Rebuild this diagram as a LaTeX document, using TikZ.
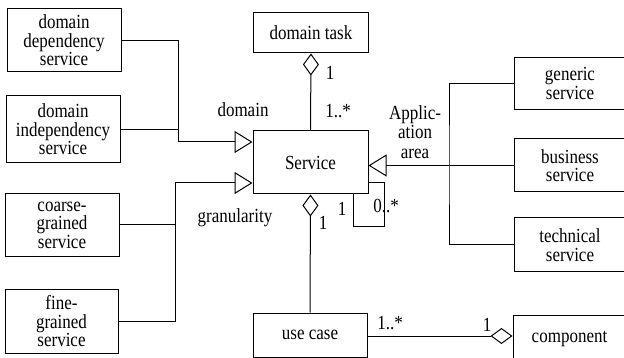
\documentclass[tikz,border=0pt]{standalone}
\usepackage{fontspec}
\setmainfont{Liberation Serif}[FakeStretch=0.85]
\usetikzlibrary{arrows.meta}

\begin{document}
\begin{tikzpicture}[x=1pt, y=-1pt, line width=1pt,
    cls/.style={draw, align=center, inner sep=0pt, font=\fontsize{20}{18.5}\selectfont},
    lbl/.style={inner sep=0pt, align=center, font=\fontsize{20}{19.5}\selectfont},
    gen/.style={-{Triangle[open, length=18pt, width=22pt]}},
    agg/.style={-{Diamond[open, length=22pt, width=16pt]}}]
    \useasboundingbox (0,0) rectangle (624,358);

    % classes
    \node[cls, minimum width=114pt, minimum height=63pt] (dep) at (64,40.5) {domain\\dependency\\service};
    \node[cls, minimum width=114pt, minimum height=67pt] (indep) at (63,129.5) {domain\\independency\\service};
    \node[cls, minimum width=114pt, minimum height=63pt] (coarse) at (62,225) {coarse-\\grained\\service};
    \node[cls, minimum width=113pt, minimum height=64pt] (fine) at (61.5,321.5) {fine-\\grained\\service};
    \node[cls, minimum width=115pt, minimum height=40pt] (task) at (311,33) {domain task};
    \node[cls, minimum width=115pt, minimum height=63pt] (serv) at (310.5,162.5) {Service};
    \node[cls, minimum width=112pt, minimum height=52pt] (generic) at (570,83.5) {generic\\service};
    \node[cls, minimum width=112pt, minimum height=53pt] (business) at (570,165.5) {business\\service};
    \node[cls, minimum width=112pt, minimum height=54pt] (technical) at (570,245) {technical\\service};
    \node[cls, minimum width=114pt, minimum height=44pt] (usecase) at (310,335) {use case};
    \node[cls, minimum width=113pt, minimum height=48pt] (component) at (569.5,339) {component};

    % domain
    \coordinate (dj) at (178,142);
    \draw[gen] (dep.east) -| (dj) -- (dj -| serv.west);
    \draw (indep.east) -- (indep.east -| dj);
    \node[lbl] (domlbl) at (243,110) {domain};

    % granularity
    \coordinate (gj) at (175,183);
    \draw[gen] (fine.east) -| (gj) -- (gj -| serv.west);
    \draw (coarse.east) -- (coarse.east -| gj);
    \node[lbl] (granlbl) at (235,218) {granularity};

    % application area
    \coordinate (aj) at (449,165.5);
    \draw (generic.west) -| (aj) |- (technical.west);
    \draw[gen] (business.west) -- (business.west -| serv.east);
    \node[lbl] (applbl) at (415,132) {Applic-\\ation\\area};

    % aggregations
    \draw[agg] (serv.north) -- (task.south);
    \node[lbl] (m1) at (330,73) {1};
    \node[lbl] (m2) at (338,111) {1..*};
    \draw[agg] (usecase.north) -- (serv.south);
    \node[lbl] (m3) at (323,223) {1};
    \draw[agg] (usecase.east |- 0,336) -- (component.west |- 0,336);
    \node[lbl] (m4) at (390,323) {1..*};
    \node[lbl] (m5) at (487,325) {1};

    % self loop
    \draw ([yshift=-20.5pt]serv.east) -| (384,227) -| ([xshift=42.5pt]serv.south);
    \node[lbl] (m6) at (342,209) {1};
    \node[lbl] (m7) at (386,206) {0..*};

\end{tikzpicture}
\end{document}
